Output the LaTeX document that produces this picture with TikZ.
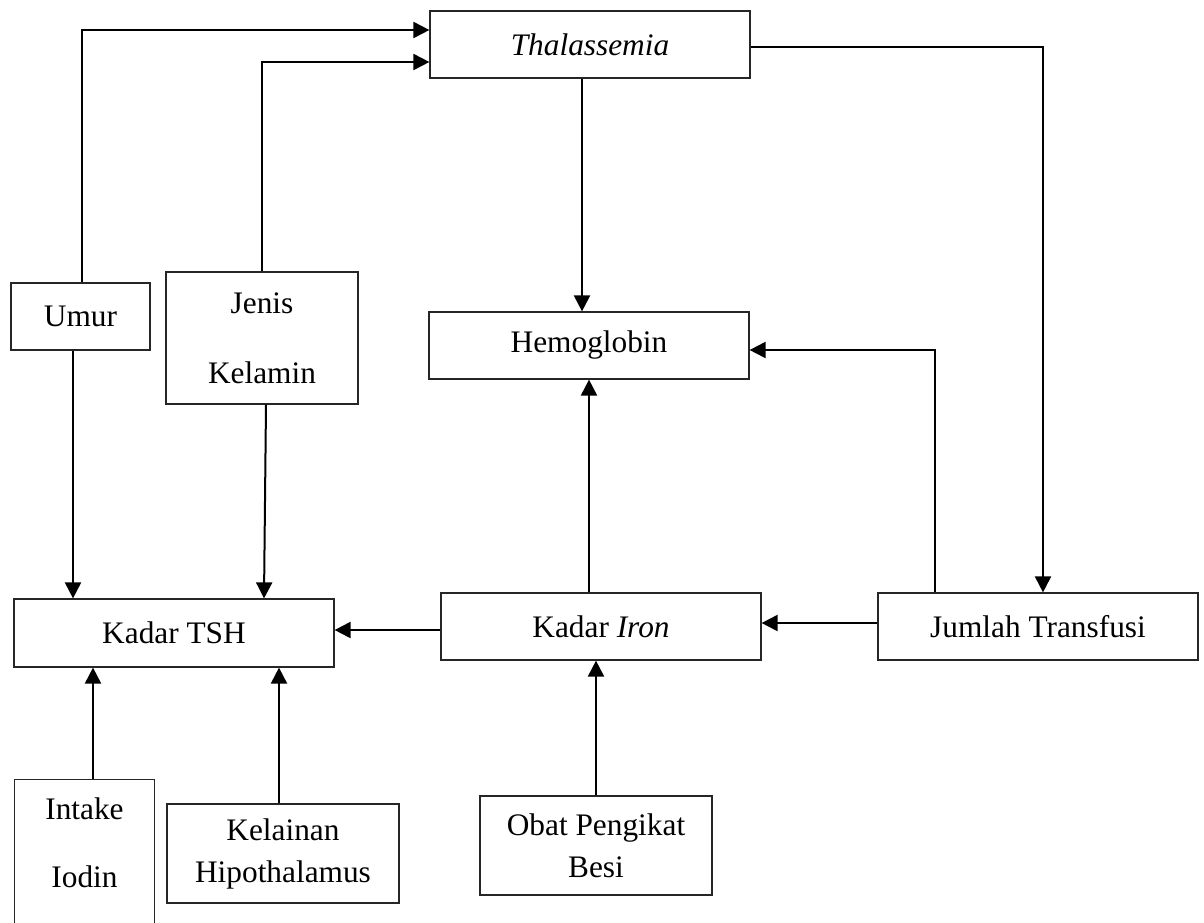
\documentclass[tikz,border=0pt]{standalone}
\usepackage{fontspec}
\setmainfont{Liberation Serif}
\usetikzlibrary{arrows.meta,calc}
\begin{document}
\begin{tikzpicture}[x=0.75pt,y=-0.75pt,
  box/.style={draw=black!85, line width=0.9pt, inner sep=0pt, align=center,
    font=\fontsize{23.5}{31.5}\selectfont},
  wide/.style={box, minimum width=240pt, minimum height=50.25pt},
  arr/.style={line width=1.5pt, -{Triangle[length=12pt,width=12pt]}}]
\path[use as bounding box, clip] (0,0) rectangle (1204,922);
\fill[white] (0,0) rectangle (1204,922);
% nodes
\node[wide] (thal) at (590,44.5) {\itshape Thalassemia};
\node[box, minimum width=104.25pt, minimum height=50.25pt] (umur) at (80.5,316.5) {Umur};
\node[box, minimum width=144pt, minimum height=99pt, font=\fontsize{23.5}{52.5}\selectfont] (jenis) at (262,338) {Jenis\\Kelamin};
\node[wide] (hb) at (589,345.5) {Hemoglobin};
\node[wide, minimum height=51pt] (tsh) at (174,633) {Kadar TSH};
\node[wide] (iron) at (601,626.5) {Kadar \textit{Iron}};
\node[wide] (jt) at (1038,626.5) {Jumlah Transfusi};
\node[box, draw=none, minimum width=104.25pt, minimum height=94.5pt, font=\fontsize{23.5}{51}\selectfont] (iodin) at (84.5,843) {Intake\\Iodin};
\draw[draw=black!85, line width=0.9pt] ($(iodin.south west)+(0,40)$) -- (iodin.north west) -- (iodin.north east) -- ($(iodin.south east)+(0,40)$);
\node[box, minimum width=174pt, minimum height=74.25pt] (kel) at (283,853.5) {Kelainan\\Hipothalamus};
\node[box, minimum width=174pt, minimum height=74.25pt] (obat) at (596,845.5) {Obat Pengikat\\Besi};
% connectors
\draw[arr] ($(umur.north)+(1.5,0)$) |- ($(thal.west)+(0,-14.5)$);
\draw[arr] (jenis.north) |- ($(thal.west)+(0,17.5)$);
\draw[arr] ($(thal.east)+(0,2.5)$) -| ($(jt.north)+(5,0)$);
\draw[arr] ($(thal.south)+(-8,0)$) -- ($(hb.north)+(-7,0)$);
\draw[arr] ($(jt.north)+(-103,0)$) |- ($(hb.east)+(0,4.5)$);
\draw[arr] (iron.north -| hb.south) -- (hb.south);
\draw[arr] ($(jt.west)+(0,-3.5)$) -- ($(iron.east)+(0,-3.5)$);
\draw[arr] ($(iron.west)+(0,3.5)$) -- ($(tsh.east)+(0,-3)$);
\draw[arr] ($(umur.south)+(-7.5,0)$) -- ($(tsh.north)+(-101,0)$);
\draw[arr] ($(jenis.south)+(4,0)$) -- ($(tsh.north)+(90,0)$);
\draw[arr] ($(iodin.north)+(8.5,0)$) -- ($(tsh.south)+(-81,0)$);
\draw[arr] ($(kel.north)+(-4,0)$) -- ($(tsh.south)+(105,0)$);
\draw[arr] (obat.north) -- ($(iron.south)+(-5,0)$);
\end{tikzpicture}
\end{document}
